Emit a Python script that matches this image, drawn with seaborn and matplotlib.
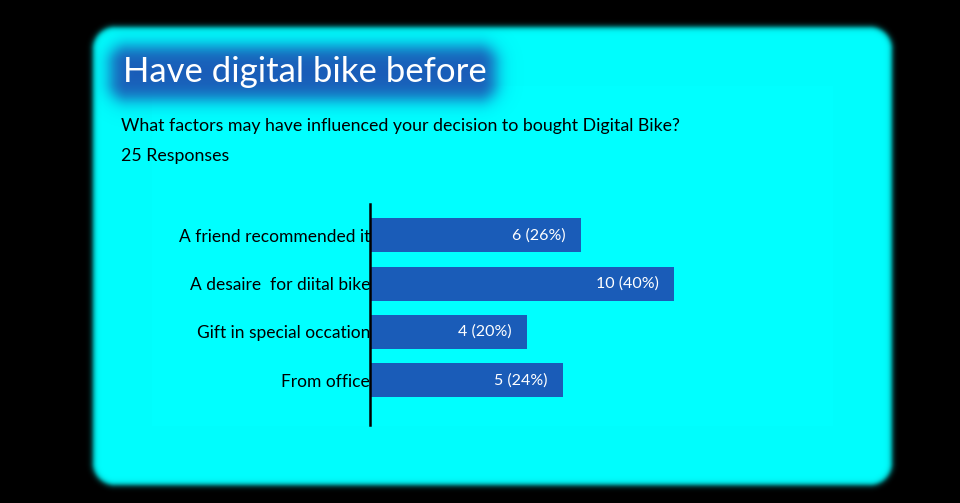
import numpy as np
import seaborn as sns
import matplotlib.pyplot as plt

# chart values
categories = ["A friend recommended it", "A desaire  for diital bike",
              "Gift in special occation", "From office"]
counts = [6, 10, 4, 5]
percents = [26, 40, 20, 24]
# bar lengths as drawn in the picture (they follow the shares, roughly)
bar_lengths = [27.8, 40, 20.7, 25.4]
title = "Have digital bike before"
question = "What factors may have influenced your decision to bought Digital Bike?"
responses = "25 Responses"

W, H = 960, 503
sns.set_theme(style="white")
plt.rcParams['font.family'] = ['Lato', 'DejaVu Sans']

fig = plt.figure(figsize=(W / 100, H / 100), dpi=100, facecolor="black")

# background layer in pixel coordinates
bg = fig.add_axes([0, 0, 1, 1])
bg.set_xlim(0, W)
bg.set_ylim(H, 0)
bg.axis("off")


def rounded_alpha(x0, y0, x1, y1, r, soft):
    yy, xx = np.mgrid[0:H, 0:W] + 0.5
    cx, cy = (x0 + x1) / 2, (y0 + y1) / 2
    bx, by = (x1 - x0) / 2, (y1 - y0) / 2
    qx = np.abs(xx - cx) - bx + r
    qy = np.abs(yy - cy) - by + r
    d = np.hypot(np.maximum(qx, 0), np.maximum(qy, 0)) + np.minimum(np.maximum(qx, qy), 0) - r
    return 1 / (1 + np.exp(d / soft))


def layer(alpha, rgb):
    img = np.zeros((H, W, 4))
    img[..., :3] = rgb
    img[..., 3] = alpha
    bg.imshow(img, extent=(0, W, H, 0), interpolation="bilinear", zorder=1)


layer(rounded_alpha(93, 27, 892, 485, 22, 1.6), (0, 1, 1))
layer(rounded_alpha(110, 46, 496, 100, 18, 5.0), (0x1a / 255, 0x5c / 255, 0xb8 / 255))
bg.set_xlim(0, W)
bg.set_ylim(H, 0)

bg.text(123, 72, title, color="white", fontsize=25, va="center", ha="left", zorder=3)
bg.text(121, 126, question, color="black", fontsize=12.8, va="center", ha="left", zorder=3)
bg.text(121, 156, responses, color="black", fontsize=12.8, va="center", ha="left", zorder=3)

# bar chart
ax = fig.add_axes([370 / W, (H - 425) / H, 304 / W, 221 / H])
ax.patch.set_alpha(0)
sns.barplot(x=bar_lengths, y=categories, orient="h", color="#1a5cb8",
            saturation=1, width=0.7, linewidth=0, ax=ax)
ax.set_xlim(0, 40)
ax.set_ylim(3.93, -0.65)
for s in ["top", "right", "bottom"]:
    ax.spines[s].set_visible(False)
ax.spines["left"].set_color("black")
ax.spines["left"].set_linewidth(1.8)
ax.spines["left"].set_zorder(5)
ax.set_xticks([])
ax.tick_params(axis="y", length=0, pad=0, labelsize=12.5, labelcolor="black")
ax.set_xlabel("")
ax.set_ylabel("")

labels = [f"{c} ({p}%)" for c, p in zip(counts, percents)]
ax.bar_label(ax.containers[0], labels=labels, padding=-11, color="white",
             fontsize=11.5, label_type="edge")
for t in ax.texts:
    t.set_ha("right")

fig.savefig("out.png", dpi=100, facecolor="black")
